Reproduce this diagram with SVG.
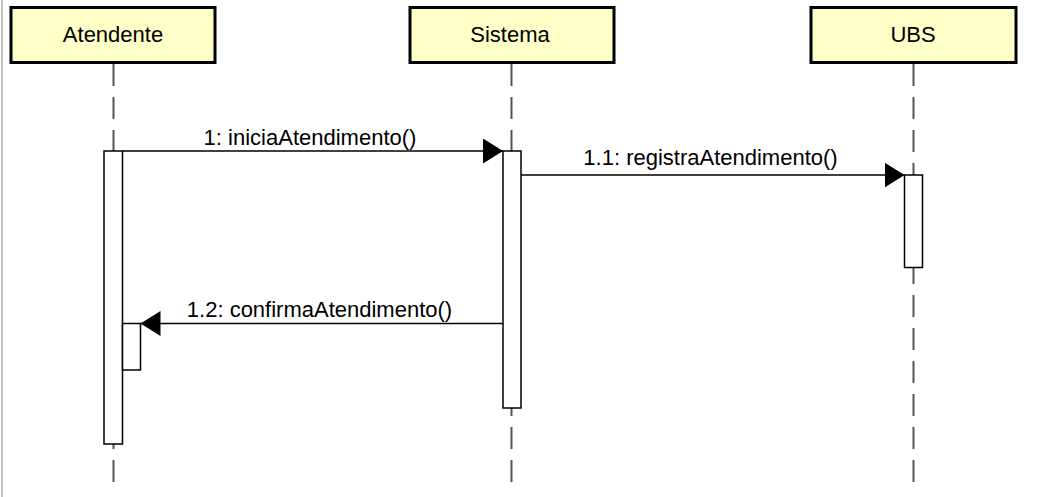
<svg xmlns="http://www.w3.org/2000/svg" width="1045" height="497" viewBox="0 0 1045 497">
<style>
.head{fill:#ffffc8;stroke:#000;stroke-width:3}
.life{stroke:#555;stroke-width:2;stroke-dasharray:22 11;fill:none}
.act{fill:#fff;stroke:#000;stroke-width:1.5}
.msg{stroke:#000;stroke-width:1.5;fill:none}
.lbl{font-family:"Liberation Sans",Arial,sans-serif;font-size:22px;fill:#000;text-anchor:middle}
</style>
<defs>
<marker id="arr" markerUnits="userSpaceOnUse" markerWidth="22" markerHeight="26" refX="20" refY="12.5" orient="auto">
<path d="M0,0 L20,12.5 L0,25 Z" fill="#000"/>
</marker>
</defs>
<rect width="1045" height="497" fill="#fff"/>
<line x1="2" y1="0" x2="2" y2="497" stroke="#b0b0b0" stroke-width="1.5"/>
<g id="lifelines">
<line class="life" x1="113.5" y1="64" x2="113.5" y2="488"/>
<line class="life" x1="511.5" y1="64" x2="511.5" y2="488"/>
<line class="life" x1="913.5" y1="64" x2="913.5" y2="488"/>
</g>
<g id="atendente">
<rect class="head" x="11" y="7.5" width="204" height="55"/>
<text class="lbl" x="113" y="42">Atendente</text>
<rect class="act" x="104" y="151" width="18.5" height="293"/>
<rect class="act" x="122.5" y="323.5" width="18" height="46.5"/>
</g>
<g id="sistema">
<rect class="head" x="410" y="7.5" width="204" height="55"/>
<text class="lbl" x="510" y="42">Sistema</text>
<rect class="act" x="503" y="151" width="18" height="257"/>
</g>
<g id="ubs">
<rect class="head" x="811" y="7.5" width="205" height="55"/>
<text class="lbl" x="913" y="42">UBS</text>
<rect class="act" x="904.5" y="175" width="18" height="92.5"/>
</g>
<g id="connectors">
<line class="msg" x1="122.5" y1="151" x2="503" y2="151" marker-end="url(#arr)"/>
<text class="lbl" x="310" y="145">1: iniciaAtendimento()</text>
<line class="msg" x1="521" y1="175" x2="904.5" y2="175" marker-end="url(#arr)"/>
<text class="lbl" x="710.5" y="165">1.1: registraAtendimento()</text>
<line class="msg" x1="503" y1="323.5" x2="140.5" y2="323.5" marker-end="url(#arr)"/>
<text class="lbl" x="319.5" y="316.5">1.2: confirmaAtendimento()</text>
</g>
</svg>
